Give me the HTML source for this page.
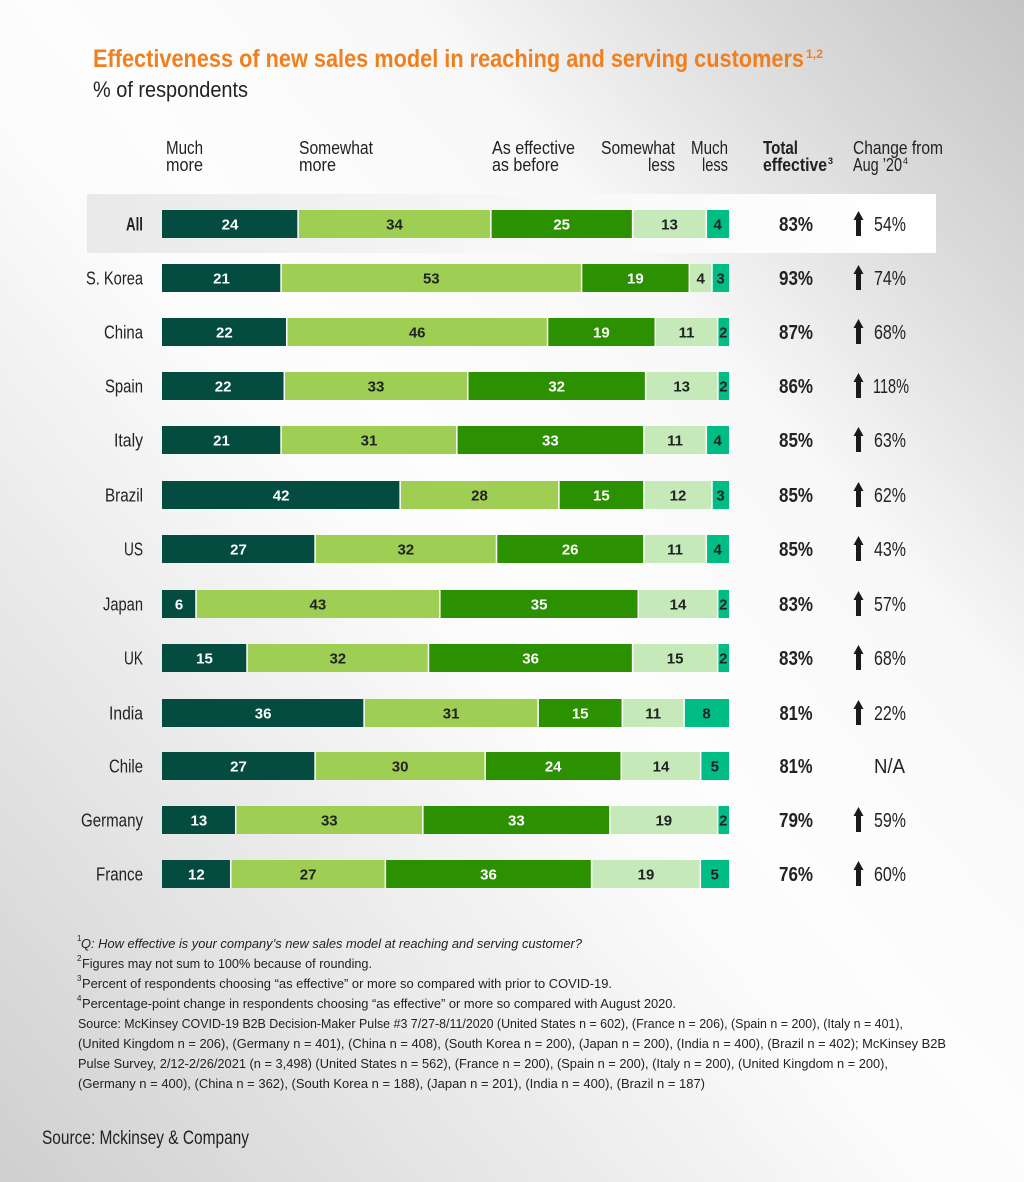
<!DOCTYPE html>
<html>
<head>
<meta charset="utf-8">
<style>
html,body{margin:0;padding:0;width:1024px;height:1182px;overflow:hidden;}
body{background:linear-gradient(to top right,#cfcfcf 0%,#e3e3e3 20%,#fbfbfb 45%,#fdfdfd 52%,#f8f8f8 70%,#dedede 84%,#c4c4c4 100%);}
svg{display:block;font-family:"Liberation Sans Narrow","Liberation Sans",sans-serif;}
.c1{fill:#034c3f}.c2{fill:#9fce55}.c3{fill:#2b9100}.c4{fill:#c6e9b9}.c5{fill:#00bd86}
.n{font-size:15px;font-weight:bold;text-anchor:middle}
.w{fill:#ffffff}.d{fill:#222222}
.lab{font-size:18px;fill:#222;text-anchor:end}
.tot{font-size:20px;font-weight:bold;fill:#222;text-anchor:middle}
.chg{font-size:20px;fill:#222}
.hd{font-size:18px;fill:#222}
.fn{font-size:13px;fill:#222}
.sup{font-size:8px;fill:#222}
.sep{stroke:#fff;stroke-width:1.5}
</style>
</head>
<body>
<svg width="1024" height="1182" viewBox="0 0 1024 1182" xmlns="http://www.w3.org/2000/svg">
<defs>
<linearGradient id="hl" x1="0" y1="0" x2="1" y2="0">
<stop offset="0" stop-color="#e9e9e9"/>
<stop offset="0.5" stop-color="#f7f7f7"/>
<stop offset="1" stop-color="#ffffff"/>
</linearGradient>
<path id="ar" d="M858.5,-13 L863.5,-4 L861,-4 L861,12 L856,12 L856,-4 L853.5,-4 Z" fill="#1a1a1a"/>
</defs>

<!-- Title -->
<text x="93" y="67" font-size="25" font-weight="bold" fill="#f07f1e" textLength="711" lengthAdjust="spacingAndGlyphs">Effectiveness of new sales model in reaching and serving customers</text>
<text x="806" y="58" font-size="12" font-weight="bold" fill="#f07f1e" textLength="17" lengthAdjust="spacingAndGlyphs">1,2</text>
<text x="93" y="97" font-size="22" fill="#222" textLength="155" lengthAdjust="spacingAndGlyphs">% of respondents</text>

<!-- Headers -->
<text class="hd" x="166" y="154" textLength="37" lengthAdjust="spacingAndGlyphs">Much</text>
<text class="hd" x="166" y="171" textLength="37" lengthAdjust="spacingAndGlyphs">more</text>
<text class="hd" x="299" y="154" textLength="74" lengthAdjust="spacingAndGlyphs">Somewhat</text>
<text class="hd" x="299" y="171" textLength="37" lengthAdjust="spacingAndGlyphs">more</text>
<text class="hd" x="492" y="154" textLength="83" lengthAdjust="spacingAndGlyphs">As effective</text>
<text class="hd" x="492" y="171" textLength="67" lengthAdjust="spacingAndGlyphs">as before</text>
<text class="hd" x="601" y="154" textLength="74" lengthAdjust="spacingAndGlyphs">Somewhat</text>
<text class="hd" x="648" y="171" textLength="27" lengthAdjust="spacingAndGlyphs">less</text>
<text class="hd" x="691" y="154" textLength="37" lengthAdjust="spacingAndGlyphs">Much</text>
<text class="hd" x="702" y="171" textLength="26" lengthAdjust="spacingAndGlyphs">less</text>
<text class="hd" x="763" y="154" font-weight="bold" textLength="35" lengthAdjust="spacingAndGlyphs">Total</text>
<text class="hd" x="763" y="171" font-weight="bold" textLength="64" lengthAdjust="spacingAndGlyphs">effective</text>
<text x="828" y="164" font-size="9" font-weight="bold" fill="#222">3</text>
<text class="hd" x="853" y="154" textLength="90" lengthAdjust="spacingAndGlyphs">Change from</text>
<text class="hd" x="853" y="171" textLength="49" lengthAdjust="spacingAndGlyphs">Aug ’20</text>
<text x="903" y="164" font-size="9" fill="#222">4</text>

<!-- Highlight box for All -->
<rect x="87" y="194" width="849" height="59" fill="url(#hl)"/>

<!-- All -->
<g transform="translate(0,224)">
<text class="lab" x="143" y="6.5" font-weight="bold" textLength="17" lengthAdjust="spacingAndGlyphs">All</text>
<rect class="c1" x="162" y="-14" width="136.08" height="28"/>
<rect class="c2" x="298.08" y="-14" width="192.78" height="28"/>
<rect class="c3" x="490.86" y="-14" width="141.75" height="28"/>
<rect class="c4" x="632.61" y="-14" width="73.71" height="28"/>
<rect class="c5" x="706.32" y="-14" width="22.68" height="28"/>
<line class="sep" x1="298.08" y1="-14" x2="298.08" y2="14"/><line class="sep" x1="490.86" y1="-14" x2="490.86" y2="14"/><line class="sep" x1="632.61" y1="-14" x2="632.61" y2="14"/><line class="sep" x1="706.32" y1="-14" x2="706.32" y2="14"/>
<text class="n w" x="230" y="5.5">24</text><text class="n d" x="394.5" y="5.5">34</text><text class="n w" x="561.7" y="5.5">25</text><text class="n d" x="669.5" y="5.5">13</text><text class="n d" x="717.7" y="5.5">4</text>
<text class="tot" x="796" y="7" textLength="34" lengthAdjust="spacingAndGlyphs">83%</text>
<use href="#ar"/>
<text class="chg" x="874" y="7" textLength="32" lengthAdjust="spacingAndGlyphs">54%</text>
</g>

<!-- S. Korea -->
<g transform="translate(0,278)">
<text class="lab" x="143" y="6.5" textLength="57" lengthAdjust="spacingAndGlyphs">S. Korea</text>
<rect class="c1" x="162" y="-14" width="119.07" height="28"/>
<rect class="c2" x="281.07" y="-14" width="300.51" height="28"/>
<rect class="c3" x="581.58" y="-14" width="107.73" height="28"/>
<rect class="c4" x="689.31" y="-14" width="22.68" height="28"/>
<rect class="c5" x="711.99" y="-14" width="17.01" height="28"/>
<line class="sep" x1="281.07" y1="-14" x2="281.07" y2="14"/><line class="sep" x1="581.58" y1="-14" x2="581.58" y2="14"/><line class="sep" x1="689.31" y1="-14" x2="689.31" y2="14"/><line class="sep" x1="711.99" y1="-14" x2="711.99" y2="14"/>
<text class="n w" x="221.5" y="5.5">21</text><text class="n d" x="431.3" y="5.5">53</text><text class="n w" x="635.4" y="5.5">19</text><text class="n d" x="700.7" y="5.5">4</text><text class="n d" x="720.5" y="5.5">3</text>
<text class="tot" x="796" y="7" textLength="34" lengthAdjust="spacingAndGlyphs">93%</text>
<use href="#ar"/>
<text class="chg" x="874" y="7" textLength="32" lengthAdjust="spacingAndGlyphs">74%</text>
</g>

<!-- China -->
<g transform="translate(0,332)">
<text class="lab" x="143" y="6.5" textLength="39" lengthAdjust="spacingAndGlyphs">China</text>
<rect class="c1" x="162" y="-14" width="124.74" height="28"/>
<rect class="c2" x="286.74" y="-14" width="260.82" height="28"/>
<rect class="c3" x="547.56" y="-14" width="107.73" height="28"/>
<rect class="c4" x="655.29" y="-14" width="62.37" height="28"/>
<rect class="c5" x="717.66" y="-14" width="11.34" height="28"/>
<line class="sep" x1="286.74" y1="-14" x2="286.74" y2="14"/><line class="sep" x1="547.56" y1="-14" x2="547.56" y2="14"/><line class="sep" x1="655.29" y1="-14" x2="655.29" y2="14"/><line class="sep" x1="717.66" y1="-14" x2="717.66" y2="14"/>
<text class="n w" x="224.4" y="5.5">22</text><text class="n d" x="417.2" y="5.5">46</text><text class="n w" x="601.4" y="5.5">19</text><text class="n d" x="686.5" y="5.5">11</text><text class="n d" x="723.3" y="5.5">2</text>
<text class="tot" x="796" y="7" textLength="34" lengthAdjust="spacingAndGlyphs">87%</text>
<use href="#ar"/>
<text class="chg" x="874" y="7" textLength="32" lengthAdjust="spacingAndGlyphs">68%</text>
</g>

<!-- Spain -->
<g transform="translate(0,386)">
<text class="lab" x="143" y="6.5" textLength="38" lengthAdjust="spacingAndGlyphs">Spain</text>
<rect class="c1" x="162" y="-14" width="122.29" height="28"/>
<rect class="c2" x="284.29" y="-14" width="183.44" height="28"/>
<rect class="c3" x="467.73" y="-14" width="177.88" height="28"/>
<rect class="c4" x="645.61" y="-14" width="72.26" height="28"/>
<rect class="c5" x="717.87" y="-14" width="11.13" height="28"/>
<line class="sep" x1="284.29" y1="-14" x2="284.29" y2="14"/><line class="sep" x1="467.73" y1="-14" x2="467.73" y2="14"/><line class="sep" x1="645.61" y1="-14" x2="645.61" y2="14"/><line class="sep" x1="717.87" y1="-14" x2="717.87" y2="14"/>
<text class="n w" x="223.1" y="5.5">22</text><text class="n d" x="376" y="5.5">33</text><text class="n w" x="556.7" y="5.5">32</text><text class="n d" x="681.7" y="5.5">13</text><text class="n d" x="723.4" y="5.5">2</text>
<text class="tot" x="796" y="7" textLength="34" lengthAdjust="spacingAndGlyphs">86%</text>
<use href="#ar"/>
<text class="chg" x="873" y="7" textLength="36" lengthAdjust="spacingAndGlyphs">118%</text>
</g>

<!-- Italy -->
<g transform="translate(0,440)">
<text class="lab" x="143" y="6.5" textLength="29" lengthAdjust="spacingAndGlyphs">Italy</text>
<rect class="c1" x="162" y="-14" width="119.07" height="28"/>
<rect class="c2" x="281.07" y="-14" width="175.77" height="28"/>
<rect class="c3" x="456.84" y="-14" width="187.11" height="28"/>
<rect class="c4" x="643.95" y="-14" width="62.37" height="28"/>
<rect class="c5" x="706.32" y="-14" width="22.68" height="28"/>
<line class="sep" x1="281.07" y1="-14" x2="281.07" y2="14"/><line class="sep" x1="456.84" y1="-14" x2="456.84" y2="14"/><line class="sep" x1="643.95" y1="-14" x2="643.95" y2="14"/><line class="sep" x1="706.32" y1="-14" x2="706.32" y2="14"/>
<text class="n w" x="221.5" y="5.5">21</text><text class="n d" x="369" y="5.5">31</text><text class="n w" x="550.4" y="5.5">33</text><text class="n d" x="675.1" y="5.5">11</text><text class="n d" x="717.7" y="5.5">4</text>
<text class="tot" x="796" y="7" textLength="34" lengthAdjust="spacingAndGlyphs">85%</text>
<use href="#ar"/>
<text class="chg" x="874" y="7" textLength="32" lengthAdjust="spacingAndGlyphs">63%</text>
</g>

<!-- Brazil -->
<g transform="translate(0,495)">
<text class="lab" x="143" y="6.5" textLength="38" lengthAdjust="spacingAndGlyphs">Brazil</text>
<rect class="c1" x="162" y="-14" width="238.14" height="28"/>
<rect class="c2" x="400.14" y="-14" width="158.76" height="28"/>
<rect class="c3" x="558.9" y="-14" width="85.05" height="28"/>
<rect class="c4" x="643.95" y="-14" width="68.04" height="28"/>
<rect class="c5" x="711.99" y="-14" width="17.01" height="28"/>
<line class="sep" x1="400.14" y1="-14" x2="400.14" y2="14"/><line class="sep" x1="558.9" y1="-14" x2="558.9" y2="14"/><line class="sep" x1="643.95" y1="-14" x2="643.95" y2="14"/><line class="sep" x1="711.99" y1="-14" x2="711.99" y2="14"/>
<text class="n w" x="281.1" y="5.5">42</text><text class="n d" x="479.5" y="5.5">28</text><text class="n w" x="601.4" y="5.5">15</text><text class="n d" x="678" y="5.5">12</text><text class="n d" x="720.5" y="5.5">3</text>
<text class="tot" x="796" y="7" textLength="34" lengthAdjust="spacingAndGlyphs">85%</text>
<use href="#ar"/>
<text class="chg" x="874" y="7" textLength="32" lengthAdjust="spacingAndGlyphs">62%</text>
</g>

<!-- US -->
<g transform="translate(0,549)">
<text class="lab" x="143" y="6.5" textLength="19" lengthAdjust="spacingAndGlyphs">US</text>
<rect class="c1" x="162" y="-14" width="153.09" height="28"/>
<rect class="c2" x="315.09" y="-14" width="181.44" height="28"/>
<rect class="c3" x="496.53" y="-14" width="147.42" height="28"/>
<rect class="c4" x="643.95" y="-14" width="62.37" height="28"/>
<rect class="c5" x="706.32" y="-14" width="22.68" height="28"/>
<line class="sep" x1="315.09" y1="-14" x2="315.09" y2="14"/><line class="sep" x1="496.53" y1="-14" x2="496.53" y2="14"/><line class="sep" x1="643.95" y1="-14" x2="643.95" y2="14"/><line class="sep" x1="706.32" y1="-14" x2="706.32" y2="14"/>
<text class="n w" x="238.5" y="5.5">27</text><text class="n d" x="405.8" y="5.5">32</text><text class="n w" x="570.2" y="5.5">26</text><text class="n d" x="675.1" y="5.5">11</text><text class="n d" x="717.7" y="5.5">4</text>
<text class="tot" x="796" y="7" textLength="34" lengthAdjust="spacingAndGlyphs">85%</text>
<use href="#ar"/>
<text class="chg" x="874" y="7" textLength="32" lengthAdjust="spacingAndGlyphs">43%</text>
</g>

<!-- Japan -->
<g transform="translate(0,604)">
<text class="lab" x="143" y="6.5" textLength="40" lengthAdjust="spacingAndGlyphs">Japan</text>
<rect class="c1" x="162" y="-14" width="34.02" height="28"/>
<rect class="c2" x="196.02" y="-14" width="243.81" height="28"/>
<rect class="c3" x="439.83" y="-14" width="198.45" height="28"/>
<rect class="c4" x="638.28" y="-14" width="79.38" height="28"/>
<rect class="c5" x="717.66" y="-14" width="11.34" height="28"/>
<line class="sep" x1="196.02" y1="-14" x2="196.02" y2="14"/><line class="sep" x1="439.83" y1="-14" x2="439.83" y2="14"/><line class="sep" x1="638.28" y1="-14" x2="638.28" y2="14"/><line class="sep" x1="717.66" y1="-14" x2="717.66" y2="14"/>
<text class="n w" x="179" y="5.5">6</text><text class="n d" x="317.9" y="5.5">43</text><text class="n w" x="539.1" y="5.5">35</text><text class="n d" x="678" y="5.5">14</text><text class="n d" x="723.3" y="5.5">2</text>
<text class="tot" x="796" y="7" textLength="34" lengthAdjust="spacingAndGlyphs">83%</text>
<use href="#ar"/>
<text class="chg" x="874" y="7" textLength="32" lengthAdjust="spacingAndGlyphs">57%</text>
</g>

<!-- UK -->
<g transform="translate(0,658)">
<text class="lab" x="143" y="6.5" textLength="19" lengthAdjust="spacingAndGlyphs">UK</text>
<rect class="c1" x="162" y="-14" width="85.05" height="28"/>
<rect class="c2" x="247.05" y="-14" width="181.44" height="28"/>
<rect class="c3" x="428.49" y="-14" width="204.12" height="28"/>
<rect class="c4" x="632.61" y="-14" width="85.05" height="28"/>
<rect class="c5" x="717.66" y="-14" width="11.34" height="28"/>
<line class="sep" x1="247.05" y1="-14" x2="247.05" y2="14"/><line class="sep" x1="428.49" y1="-14" x2="428.49" y2="14"/><line class="sep" x1="632.61" y1="-14" x2="632.61" y2="14"/><line class="sep" x1="717.66" y1="-14" x2="717.66" y2="14"/>
<text class="n w" x="204.5" y="5.5">15</text><text class="n d" x="337.8" y="5.5">32</text><text class="n w" x="530.6" y="5.5">36</text><text class="n d" x="675.1" y="5.5">15</text><text class="n d" x="723.3" y="5.5">2</text>
<text class="tot" x="796" y="7" textLength="34" lengthAdjust="spacingAndGlyphs">83%</text>
<use href="#ar"/>
<text class="chg" x="874" y="7" textLength="32" lengthAdjust="spacingAndGlyphs">68%</text>
</g>

<!-- India -->
<g transform="translate(0,713)">
<text class="lab" x="143" y="6.5" textLength="34" lengthAdjust="spacingAndGlyphs">India</text>
<rect class="c1" x="162" y="-14" width="202.1" height="28"/>
<rect class="c2" x="364.1" y="-14" width="174.03" height="28"/>
<rect class="c3" x="538.13" y="-14" width="84.21" height="28"/>
<rect class="c4" x="622.34" y="-14" width="61.75" height="28"/>
<rect class="c5" x="684.09" y="-14" width="44.91" height="28"/>
<line class="sep" x1="364.1" y1="-14" x2="364.1" y2="14"/><line class="sep" x1="538.13" y1="-14" x2="538.13" y2="14"/><line class="sep" x1="622.34" y1="-14" x2="622.34" y2="14"/><line class="sep" x1="684.09" y1="-14" x2="684.09" y2="14"/>
<text class="n w" x="263.1" y="5.5">36</text><text class="n d" x="451.1" y="5.5">31</text><text class="n w" x="580.2" y="5.5">15</text><text class="n d" x="653.2" y="5.5">11</text><text class="n d" x="706.5" y="5.5">8</text>
<text class="tot" x="796" y="7" textLength="33" lengthAdjust="spacingAndGlyphs">81%</text>
<use href="#ar"/>
<text class="chg" x="874" y="7" textLength="32" lengthAdjust="spacingAndGlyphs">22%</text>
</g>

<!-- Chile -->
<g transform="translate(0,766)">
<text class="lab" x="143" y="6.5" textLength="34" lengthAdjust="spacingAndGlyphs">Chile</text>
<rect class="c1" x="162" y="-14" width="153.09" height="28"/>
<rect class="c2" x="315.09" y="-14" width="170.1" height="28"/>
<rect class="c3" x="485.19" y="-14" width="136.08" height="28"/>
<rect class="c4" x="621.27" y="-14" width="79.38" height="28"/>
<rect class="c5" x="700.65" y="-14" width="28.35" height="28"/>
<line class="sep" x1="315.09" y1="-14" x2="315.09" y2="14"/><line class="sep" x1="485.19" y1="-14" x2="485.19" y2="14"/><line class="sep" x1="621.27" y1="-14" x2="621.27" y2="14"/><line class="sep" x1="700.65" y1="-14" x2="700.65" y2="14"/>
<text class="n w" x="238.5" y="5.5">27</text><text class="n d" x="400.1" y="5.5">30</text><text class="n w" x="553.2" y="5.5">24</text><text class="n d" x="661" y="5.5">14</text><text class="n d" x="714.8" y="5.5">5</text>
<text class="tot" x="796" y="7" textLength="33" lengthAdjust="spacingAndGlyphs">81%</text>
<text class="chg" x="874" y="7" textLength="31" lengthAdjust="spacingAndGlyphs">N/A</text>
</g>

<!-- Germany -->
<g transform="translate(0,820)">
<text class="lab" x="143" y="6.5" textLength="62" lengthAdjust="spacingAndGlyphs">Germany</text>
<rect class="c1" x="162" y="-14" width="73.71" height="28"/>
<rect class="c2" x="235.71" y="-14" width="187.11" height="28"/>
<rect class="c3" x="422.82" y="-14" width="187.11" height="28"/>
<rect class="c4" x="609.93" y="-14" width="107.73" height="28"/>
<rect class="c5" x="717.66" y="-14" width="11.34" height="28"/>
<line class="sep" x1="235.71" y1="-14" x2="235.71" y2="14"/><line class="sep" x1="422.82" y1="-14" x2="422.82" y2="14"/><line class="sep" x1="609.93" y1="-14" x2="609.93" y2="14"/><line class="sep" x1="717.66" y1="-14" x2="717.66" y2="14"/>
<text class="n w" x="198.9" y="5.5">13</text><text class="n d" x="329.3" y="5.5">33</text><text class="n w" x="516.4" y="5.5">33</text><text class="n d" x="663.8" y="5.5">19</text><text class="n d" x="723.3" y="5.5">2</text>
<text class="tot" x="796" y="7" textLength="34" lengthAdjust="spacingAndGlyphs">79%</text>
<use href="#ar"/>
<text class="chg" x="874" y="7" textLength="32" lengthAdjust="spacingAndGlyphs">59%</text>
</g>

<!-- France -->
<g transform="translate(0,874)">
<text class="lab" x="143" y="6.5" textLength="47" lengthAdjust="spacingAndGlyphs">France</text>
<rect class="c1" x="162" y="-14" width="68.73" height="28"/>
<rect class="c2" x="230.73" y="-14" width="154.64" height="28"/>
<rect class="c3" x="385.37" y="-14" width="206.18" height="28"/>
<rect class="c4" x="591.55" y="-14" width="108.81" height="28"/>
<rect class="c5" x="700.36" y="-14" width="28.64" height="28"/>
<line class="sep" x1="230.73" y1="-14" x2="230.73" y2="14"/><line class="sep" x1="385.37" y1="-14" x2="385.37" y2="14"/><line class="sep" x1="591.55" y1="-14" x2="591.55" y2="14"/><line class="sep" x1="700.36" y1="-14" x2="700.36" y2="14"/>
<text class="n w" x="196.4" y="5.5">12</text><text class="n d" x="308.1" y="5.5">27</text><text class="n w" x="488.5" y="5.5">36</text><text class="n d" x="646" y="5.5">19</text><text class="n d" x="714.7" y="5.5">5</text>
<text class="tot" x="796" y="7" textLength="34" lengthAdjust="spacingAndGlyphs">76%</text>
<use href="#ar"/>
<text class="chg" x="874" y="7" textLength="32" lengthAdjust="spacingAndGlyphs">60%</text>
</g>

<!-- Footnotes -->
<text class="sup" x="77" y="941">1</text>
<text class="fn" x="81" y="948" font-style="italic" textLength="501" lengthAdjust="spacingAndGlyphs">Q: How effective is your company’s new sales model at reaching and serving customer?</text>
<text class="sup" x="77" y="961">2</text>
<text class="fn" x="82" y="968" textLength="290" lengthAdjust="spacingAndGlyphs">Figures may not sum to 100% because of rounding.</text>
<text class="sup" x="77" y="981">3</text>
<text class="fn" x="82" y="988" textLength="530" lengthAdjust="spacingAndGlyphs">Percent of respondents choosing “as effective” or more so compared with prior to COVID-19.</text>
<text class="sup" x="77" y="1001">4</text>
<text class="fn" x="82" y="1008" textLength="594" lengthAdjust="spacingAndGlyphs">Percentage-point change in respondents choosing “as effective” or more so compared with August 2020.</text>
<text class="fn" x="78" y="1028" textLength="825" lengthAdjust="spacingAndGlyphs">Source: McKinsey COVID-19 B2B Decision-Maker Pulse #3 7/27-8/11/2020 (United States n = 602), (France n = 206), (Spain n = 200), (Italy n = 401),</text>
<text class="fn" x="78" y="1048" textLength="868" lengthAdjust="spacingAndGlyphs">(United Kingdom n = 206), (Germany n = 401), (China n = 408), (South Korea n = 200),  (Japan n = 200),  (India n = 400), (Brazil n = 402); McKinsey B2B</text>
<text class="fn" x="78" y="1068" textLength="810" lengthAdjust="spacingAndGlyphs">Pulse Survey, 2/12-2/26/2021 (n = 3,498) (United States n = 562), (France n = 200), (Spain n = 200), (Italy n = 200), (United Kingdom n = 200),</text>
<text class="fn" x="78" y="1088" textLength="627" lengthAdjust="spacingAndGlyphs">(Germany n = 400), (China n = 362), (South Korea n = 188),  (Japan n = 201),  (India n = 400), (Brazil n = 187)</text>

<!-- Bottom source -->
<text x="42" y="1144" font-size="19" fill="#222" textLength="207" lengthAdjust="spacingAndGlyphs">Source: Mckinsey &amp; Company</text>
</svg>
</body>
</html>
